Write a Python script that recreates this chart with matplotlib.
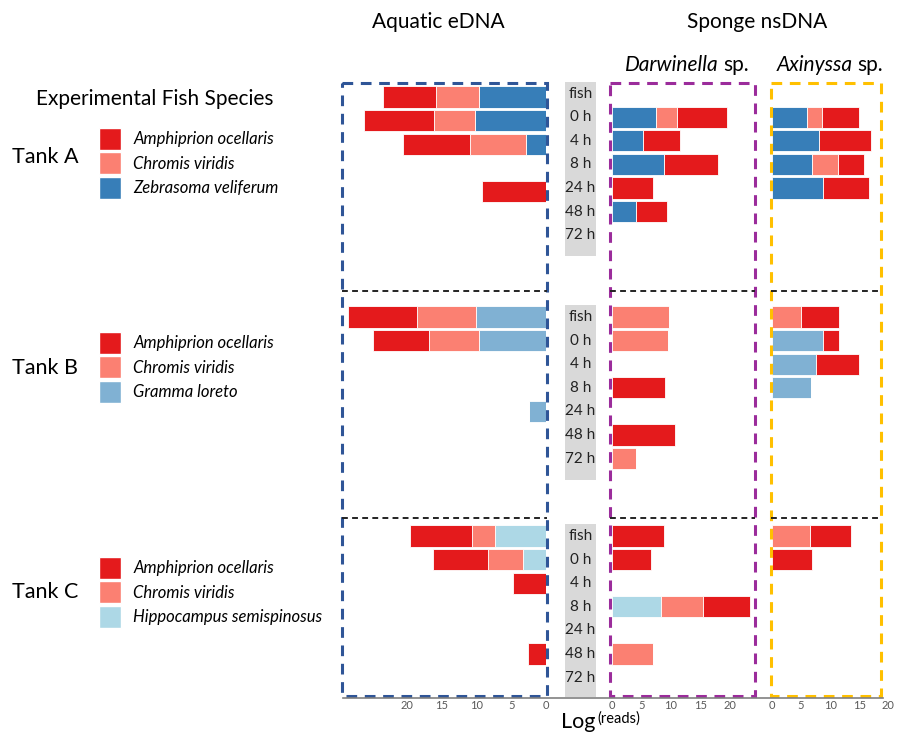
import matplotlib
matplotlib.use('Agg')
import matplotlib.pyplot as plt
from matplotlib.patches import Patch, Rectangle
import numpy as np

plt.rcParams['font.family'] = ['Lato', 'DejaVu Sans']

# row labels and tanks
rows = ['fish', '0 h', '4 h', '8 h', '24 h', '48 h', '72 h']
tanks = ['Tank A', 'Tank B', 'Tank C']
amph_name = 'Amphiprion ocellaris'
chro_name = 'Chromis viridis'
other_names = ['Zebrasoma veliferum', 'Gramma loreto', 'Hippocampus semispinosus']

# Aquatic eDNA, log(reads); one list per tank, rows fish..72 h
edna_amph = [[7.7, 10.1, 9.7, 0, 9.2, 0, 0],
             [10.0, 8.1, 0, 0, 0, 0, 0],
             [9.0, 7.9, 4.8, 0, 0, 2.6, 0]]
edna_chro = [[6.1, 5.9, 8.0, 0, 0, 0, 0],
             [8.4, 7.2, 0, 0, 0, 0, 0],
             [3.2, 5.0, 0, 0, 0, 0, 0]]
edna_other = [[9.7, 10.2, 2.9, 0, 0, 0, 0],
              [10.1, 9.6, 0, 0, 2.5, 0, 0],
              [7.4, 3.3, 0, 0, 0, 0, 0]]

# Sponge nsDNA - Darwinella sp.
darw_amph = [[0, 8.6, 6.2, 9.1, 7.0, 5.2, 0],
             [0, 0, 0, 9.1, 0, 10.8, 0],
             [8.8, 6.6, 0, 8.1, 0, 0, 0]]
darw_chro = [[0, 3.5, 0, 0, 0, 0, 0],
             [9.7, 9.6, 0, 0, 0, 0, 4.1],
             [0, 0, 0, 7.0, 0, 6.9, 0]]
darw_other = [[0, 7.5, 5.3, 8.9, 0, 4.1, 0],
              [0, 0, 0, 0, 0, 0, 0],
              [0, 0, 0, 8.4, 0, 0, 0]]

# Sponge nsDNA - Axinyssa sp.
axin_amph = [[0, 6.3, 9.1, 4.6, 7.9, 0, 0],
             [6.6, 2.8, 7.4, 0, 0, 0, 0],
             [7.0, 6.9, 0, 0, 0, 0, 0]]
axin_chro = [[0, 2.6, 0, 4.5, 0, 0, 0],
             [5.0, 0, 0, 0, 0, 0, 0],
             [6.6, 0, 0, 0, 0, 0, 0]]
axin_other = [[0, 6.0, 8.0, 6.8, 8.7, 0, 0],
              [0, 8.7, 7.5, 6.7, 0, 0, 0],
              [0, 0, 0, 0, 0, 0, 0]]

c_amph = '#E41A1C'
c_chro = '#FB8072'
c_other = ['#377EB8', '#80B1D3', '#ADD8E6']

W, H = 897, 733
fig = plt.figure(figsize=(W / 100, H / 100), dpi=100)


def fr(x0, y0, x1, y1):
    # pixel box -> figure fraction rect
    return [x0 / W, 1 - y1 / H, (x1 - x0) / W, (y1 - y0) / H]


tank_base = [0, 9.47, 18.75]
ylim = (25.57, -0.49)
bar_h = 0.9


def panel(rect, xlim, ticks, amph, chro, other, shift=(0, 0, 0)):
    ax = fig.add_axes(rect)
    for t in range(3):
        y = tank_base[t] + shift[t] + np.arange(len(rows))
        a = np.array(other[t])
        b = np.array(chro[t])
        c = np.array(amph[t])
        ax.barh(y, a, height=bar_h, color=c_other[t], edgecolor='white', linewidth=0.6)
        ax.barh(y, b, left=a, height=bar_h, color=c_chro, edgecolor='white', linewidth=0.6)
        ax.barh(y, c, left=a + b, height=bar_h, color=c_amph, edgecolor='white', linewidth=0.6)
    ax.set_xlim(*xlim)
    ax.set_ylim(*ylim)
    ax.set_xticks(ticks)
    ax.tick_params(axis='x', length=0, pad=2, labelsize=8, labelcolor='#595959')
    ax.set_yticks([])
    for s in ax.spines.values():
        s.set_visible(False)
    ax.patch.set_alpha(0)
    return ax


panel(fr(343, 82, 546, 697), (29.2, 0), [20, 15, 10, 5, 0], edna_amph, edna_chro, edna_other,
      shift=(0.15, 0, 0))
panel(fr(612, 82, 756, 697), (0, 24.5), [0, 5, 10, 15, 20], darw_amph, darw_chro, darw_other)
panel(fr(772, 82, 893, 697), (0, 20.8), [0, 5, 10, 15, 20], axin_amph, axin_chro, axin_other)

# time point label column
axl = fig.add_axes(fr(565, 82, 596, 697))
axl.set_xlim(0, 1)
axl.set_ylim(*ylim)
axl.axis('off')
for t in range(3):
    top = tank_base[t] - 0.5
    bot = tank_base[t] + 6.9 if t < 2 else ylim[0]
    axl.axhspan(top, bot, color='#D9D9D9', lw=0)
    for i, r in enumerate(rows):
        axl.text(0.5, tank_base[t] + i, r, ha='center', va='center', fontsize=11, color='#222222')

# overlay for boxes, dividers and baseline
ov = fig.add_axes([0, 0, 1, 1], zorder=5)
ov.set_xlim(0, W)
ov.set_ylim(H, 0)
ov.axis('off')
ov.patch.set_alpha(0)
boxes = [(342, 547, '#2F5597'), (610, 755, '#9B2C9B'), (771, 881, '#FFC000')]
for x0, x1, col in boxes:
    ov.add_patch(Rectangle((x0, 83), x1 - x0, 696 - 83, fill=False, ec=col, lw=2.2,
                           ls=(0, (3.5, 2.5))))
    for yd in (291, 518):
        ov.plot([x0, x1], [yd, yd], color='#222222', lw=1.4, ls=(0, (3, 2.2)))
ov.plot([343, 883], [697.5, 697.5], color='#808080', lw=1.2)

# titles
ov.text(438, 22, 'Aquatic eDNA', ha='center', va='center', fontsize=15)
ov.text(757, 22, 'Sponge nsDNA', ha='center', va='center', fontsize=15)
ov.text(719, 65, 'Darwinella', ha='right', va='center', fontsize=15, style='italic')
ov.text(723, 65, 'sp.', ha='left', va='center', fontsize=15)
ov.text(853, 65, 'Axinyssa', ha='right', va='center', fontsize=15, style='italic')
ov.text(857, 65, 'sp.', ha='left', va='center', fontsize=15)
ov.text(561, 728, 'Log', ha='left', va='baseline', fontsize=15.5)
ov.text(597, 719, '(reads)', ha='left', va='center', fontsize=10.5)

# legends
ov.text(155, 99, 'Experimental Fish Species', ha='center', va='center', fontsize=15)
leg_top = [128, 332, 557]
tank_y = [157, 368, 592]
for t in range(3):
    ov.text(12, tank_y[t], tanks[t], ha='left', va='center', fontsize=15.5)
    handles = [Patch(facecolor=c_amph, edgecolor='white', label=amph_name),
               Patch(facecolor=c_chro, edgecolor='white', label=chro_name),
               Patch(facecolor=c_other[t], edgecolor='white', label=other_names[t])]
    fig.legend(handles=handles, loc='upper left', bbox_to_anchor=(99 / W, 1 - leg_top[t] / H),
               frameon=False, borderpad=0, borderaxespad=0, handlelength=1.3, handleheight=1.65,
               handletextpad=0.75, labelspacing=0.15, prop={'size': 12, 'style': 'italic'})

fig.savefig('out.png', dpi=100)
